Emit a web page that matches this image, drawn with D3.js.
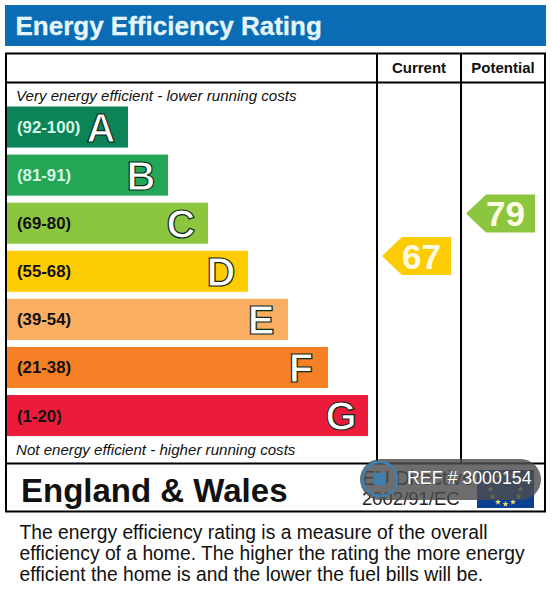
<!DOCTYPE html>
<html>
<head>
<meta charset="utf-8">
<script src="https://cdn.jsdelivr.net/npm/d3@7"></script>
<style>
html,body{margin:0;padding:0;background:#fff}
svg{display:block}
text{font-family:"Liberation Sans",Arial,sans-serif}
</style>
</head>
<body>
<svg id="c" width="552" height="613"></svg>
<script>
const bandLetters = ["A","B","C","D","E","F","G"];
const bandRanges = ["(92-100)","(81-91)","(69-80)","(55-68)","(39-54)","(21-38)","(1-20)"];
const bandColors = ["#0d8457","#23a756","#8cc63f","#fdcc05","#f9ae62","#f58025","#ed1b3a"];
const bandLabelColors = ["#d5f5e5","#d5f5e5","#111","#111","#111","#111","#111"];
const bandLength = [1,2,3,4,5,6,7];
const ratingColumns = ["Current","Potential"];
const ratingValues = [67,79];
const ratingColors = ["#fdcc05","#8cc63f"];
const descLines = [
  "The energy efficiency rating is a measure of the overall",
  "efficiency of a home.  The higher the rating the more energy",
  "efficient the home is and the lower the fuel bills will be."
];

const svg = d3.select("#c");
const y = d3.scaleBand().domain(bandLetters).range([103,439.6]).paddingInner(0.146).paddingOuter(0.073);
const w = d3.scaleLinear().domain([1,7]).range([121,361]);
const score = d3.scaleLinear().domain([0,100]).range([493.3,139.2]);
const col = d3.scaleBand().domain(ratingColumns).range([377,545]);

svg.append("rect").attr("x",5).attr("y",5).attr("width",541).attr("height",41).attr("fill","#0a6cb4");
svg.append("text").attr("x",15.5).attr("y",35).attr("fill","#e4f6fb").attr("font-size",26).attr("font-weight",700).attr("stroke","#e4f6fb").attr("stroke-width",0.3).text("Energy Efficiency Rating");

const bars = svg.append("g").selectAll("g").data(bandLetters).join("g");
bars.append("rect").attr("x",7).attr("y",d=>y(d)).attr("height",y.bandwidth())
  .attr("width",(d,i)=>w(bandLength[i])).attr("fill",(d,i)=>bandColors[i]);
bars.append("text").attr("x",17).attr("y",d=>y(d)+y.bandwidth()/2+6)
  .attr("font-size",16.8).attr("font-weight",700).attr("fill",(d,i)=>bandLabelColors[i]).text((d,i)=>bandRanges[i]);
bars.append("text").attr("x",(d,i)=>7+w(bandLength[i])-27).attr("y",d=>y(d)+y.bandwidth()/2+14.5)
  .attr("text-anchor","middle").attr("font-size",40).attr("font-weight",700)
  .attr("fill","#fff").attr("stroke","#0b2b1c").attr("stroke-width",1.2).text(d=>d);

svg.append("text").attr("x",16).attr("y",101).attr("font-size",15.1).attr("font-style","italic").attr("fill","#111").text("Very energy efficient - lower running costs");
svg.append("text").attr("x",16).attr("y",455).attr("font-size",15.1).attr("font-style","italic").attr("fill","#111").text("Not energy efficient - higher running costs");

const frame = svg.append("g").attr("stroke","#000").attr("stroke-width",2).attr("fill","none");
frame.append("rect").attr("x",6).attr("y",53.5).attr("width",539).attr("height",458);
frame.append("line").attr("x1",6).attr("x2",545).attr("y1",82.5).attr("y2",82.5);
frame.append("line").attr("x1",6).attr("x2",545).attr("y1",463.5).attr("y2",463.5);
col.domain().forEach(c=>{
  frame.append("line").attr("x1",col(c)).attr("x2",col(c)).attr("y1",53.5).attr("y2",463.5);
});
svg.append("g").selectAll("text").data(ratingColumns).join("text")
  .attr("x",d=>col(d)+col.bandwidth()/2).attr("y",73)
  .attr("text-anchor","middle").attr("font-size",15).attr("font-weight",700).attr("fill","#111").text(d=>d);

const arrows = svg.append("g").selectAll("g").data(ratingValues).join("g")
  .attr("transform",(d,i)=>`translate(${col(ratingColumns[i])+5},${score(d)})`);
arrows.append("path").attr("d","M0,0L20,-19H69V19H20Z").attr("fill",(d,i)=>ratingColors[i]);
arrows.append("text").attr("x",39.5).attr("y",12.5).attr("text-anchor","middle").attr("font-size",35)
  .attr("font-weight",700).attr("fill","#fdfbe6").text(d=>d);

svg.append("text").attr("x",21).attr("y",502).attr("font-size",33).attr("font-weight",700).attr("fill","#111").text("England & Wales");

// EU directive block and flag
svg.append("text").attr("x",362).attr("y",485).attr("font-size",20).attr("fill","#222").text("EU Directive");
svg.append("text").attr("x",362).attr("y",505).attr("font-size",18.5).attr("fill","#222").text("2002/91/EC");
svg.append("rect").attr("x",477).attr("y",470).attr("width",57).attr("height",38).attr("fill","#0b3f94");
const starAngles = d3.range(12).map(i=>i*30);
svg.append("g").selectAll("path").data(starAngles).join("path")
  .attr("d",d3.symbol(d3.symbolStar,12))
  .attr("transform",d=>`translate(${505.5+15*Math.sin(d*Math.PI/180)},${489-15*Math.cos(d*Math.PI/180)})`)
  .attr("fill","#f5e26a");

// watermark pill
svg.append("rect").attr("x",360).attr("y",459).attr("width",181).attr("height",41).attr("rx",20.5).attr("fill","#4d4d4d").attr("fill-opacity",0.82);
svg.append("circle").attr("cx",380).attr("cy",479).attr("r",17).attr("fill","none").attr("stroke","#3f7fae").attr("stroke-width",2.5);
svg.append("path").attr("d",d3.symbol(d3.symbolSquare,150)).attr("transform","translate(380,479)").attr("fill","#3f7fae");
svg.append("text").attr("x",407).attr("y",483.5).attr("font-size",17.8).attr("font-family","Roboto").attr("fill","#fff").text("REF # 3000154");

svg.append("g").selectAll("text").data(descLines).join("text")
  .attr("x",19.5).attr("y",(d,i)=>[538.5,560,581][i]).attr("font-size",19.3).attr("fill","#111").text(d=>d);
</script>
</body>
</html>
